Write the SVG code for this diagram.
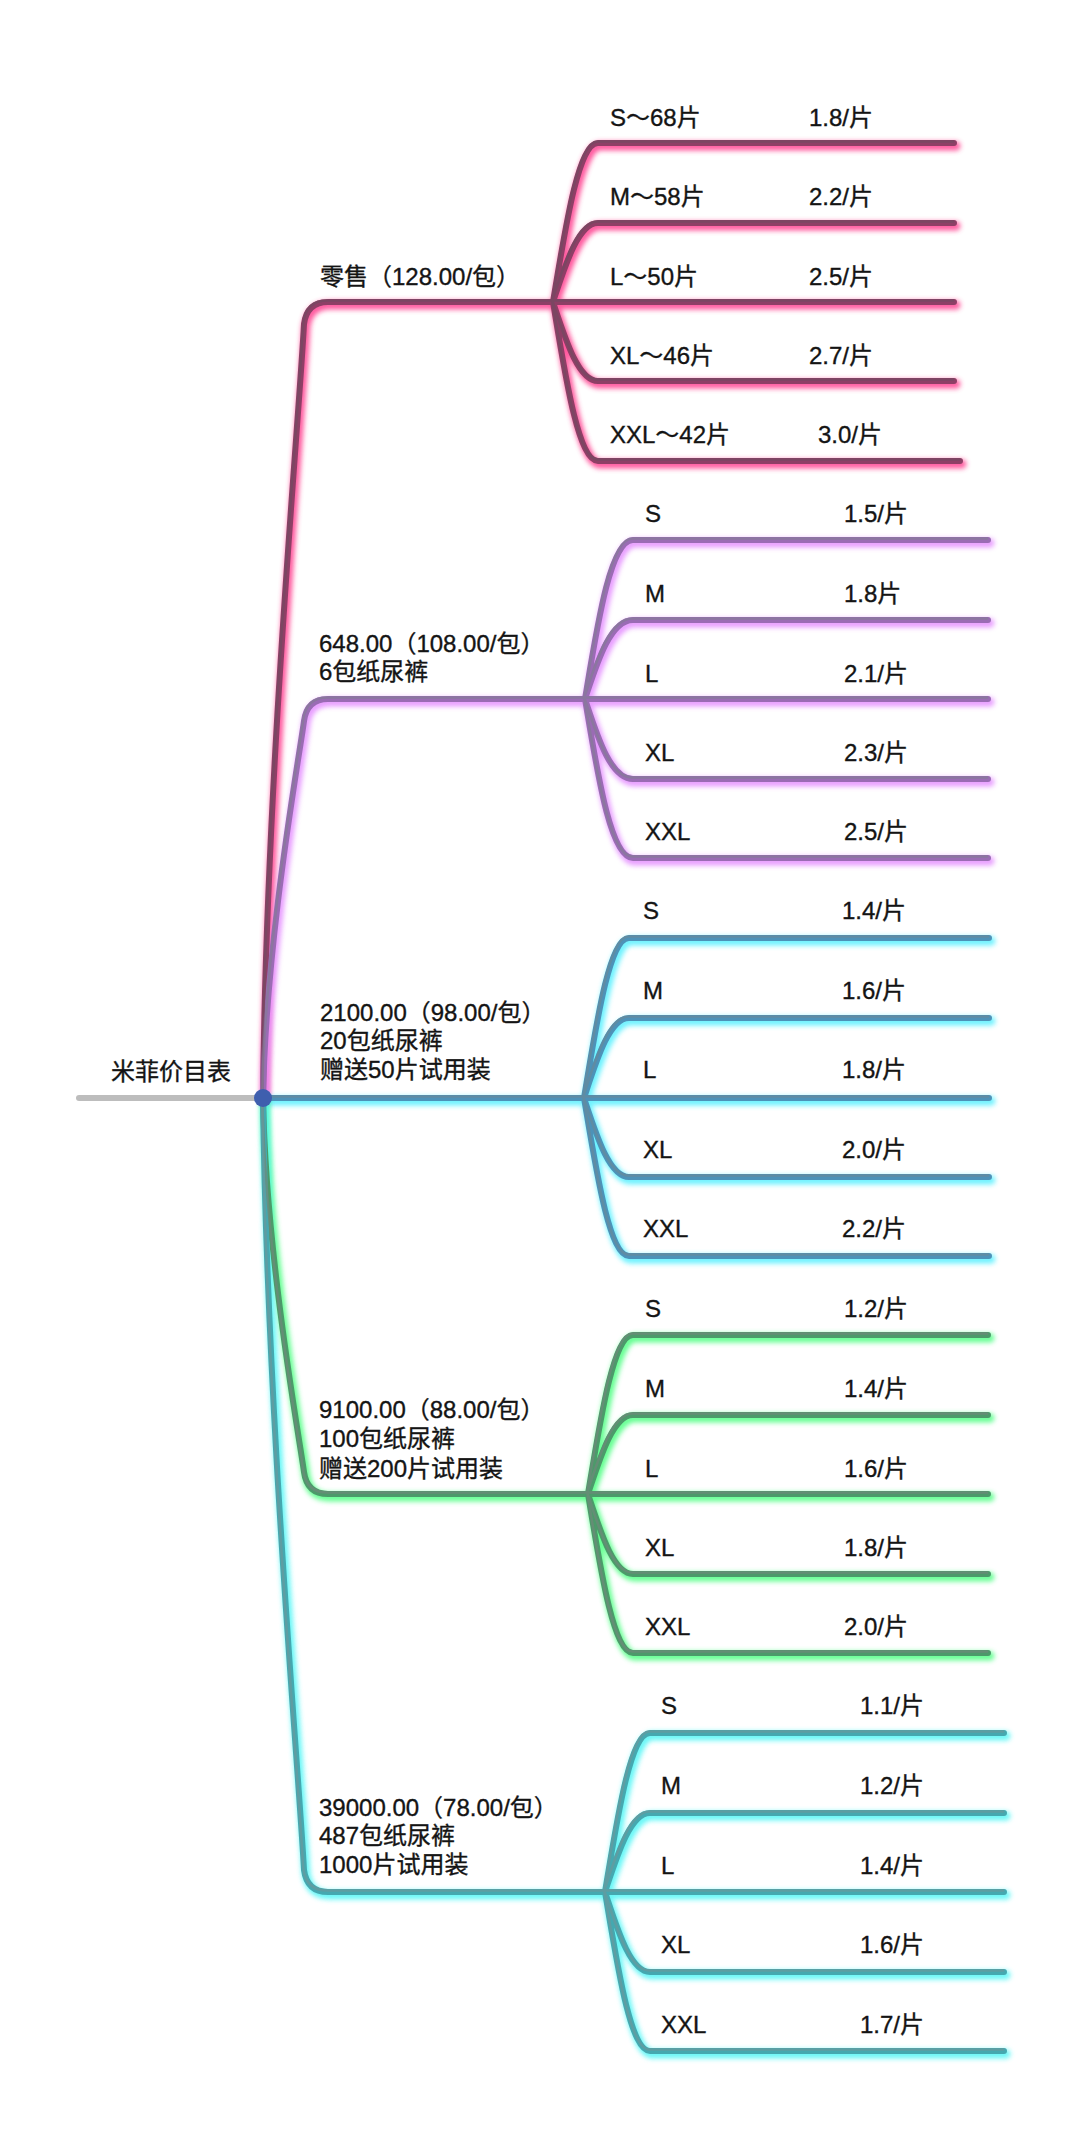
<svg xmlns="http://www.w3.org/2000/svg" xmlns:xlink="http://www.w3.org/1999/xlink" width="1078" height="2130" viewBox="0 0 1078 2130">
<style>
text{font-family:"Liberation Sans","Noto Sans CJK SC",sans-serif;font-size:24px;fill:#141414;stroke:#141414;stroke-width:0.35}
.ln{fill:none;stroke-linecap:round;stroke-linejoin:round}
.glow{stroke-width:9;opacity:.85}
.main{stroke-width:6}
.hi{stroke-width:2.6;opacity:.75}
.g1{stroke:#ff3d8e}.m1{stroke:#8e3f66}.h1{stroke:#744a62}
.g2{stroke:#e48cff}.m2{stroke:#9a6cb4}.h2{stroke:#857a98}
.g3{stroke:#55f0ff}.m3{stroke:#4d92b8}.h3{stroke:#668a9c}
.g4{stroke:#4cff80}.m4{stroke:#4c9a6a}.h4{stroke:#6c8a7a}
.g5{stroke:#4ff6f6}.m5{stroke:#45a8b0}.h5{stroke:#679a9e}
</style>
<defs>
<filter id="blur" filterUnits="userSpaceOnUse" x="0" y="0" width="1078" height="2130">
<feGaussianBlur stdDeviation="2.5"/>
<feOffset dx="1.5" dy="2.5"/>
</filter>
<path id="p1" d="M263,1098 C266,780 299,421 304,324 Q307,302 328,302 L954,302 M553,302 C565,230 578,143 598,143 L954,143 M553,302 C565,266 578,223 598,223 L954,223 M553,302 C565,338 578,381 598,381 L954,381 M553,302 C565,374 578,461 598,461 L960,461"/>
<path id="p2" d="M263,1098 C266,938 299,759 304,721 Q307,699 328,699 L988,699 M585,699 C597,627 610,540 633,540 L988,540 M585,699 C597,663 610,620 633,620 L988,620 M585,699 C597,735 610,779 633,779 L988,779 M585,699 C597,770 610,858 633,858 L988,858"/>
<path id="p3" d="M263,1098 L989,1098 M584,1098 C596,1026 609,938 629,938 L989,938 M584,1098 C596,1062 609,1018 629,1018 L989,1018 M584,1098 C596,1134 609,1177 629,1177 L989,1177 M584,1098 C596,1169 609,1256 629,1256 L989,1256"/>
<path id="p4" d="M263,1098 C266,1256 299,1435 304,1472 Q307,1494 328,1494 L988,1494 M588,1494 C600,1422 613,1335 633,1335 L988,1335 M588,1494 C600,1458 613,1415 633,1415 L988,1415 M588,1494 C600,1530 613,1574 633,1574 L988,1574 M588,1494 C600,1566 613,1653 633,1653 L988,1653"/>
<path id="p5" d="M263,1098 C267,1416 299,1773 304,1870 Q307,1892 328,1892 L1004,1892 M605,1892 C617,1820 630,1733 650,1733 L1004,1733 M605,1892 C617,1856 630,1813 650,1813 L1004,1813 M605,1892 C617,1928 630,1972 650,1972 L1004,1972 M605,1892 C617,1963 630,2051 650,2051 L1004,2051"/>
</defs>
<rect width="1078" height="2130" fill="#ffffff"/>
<g id="connectors">
<line class="ln" x1="79" y1="1098" x2="263" y2="1098" stroke="#bdbdbd" stroke-width="6"/>
<use href="#p1" class="ln glow g1" filter="url(#blur)"/>
<use href="#p2" class="ln glow g2" filter="url(#blur)"/>
<use href="#p3" class="ln glow g3" filter="url(#blur)"/>
<use href="#p4" class="ln glow g4" filter="url(#blur)"/>
<use href="#p5" class="ln glow g5" filter="url(#blur)"/>
<use href="#p1" class="ln main m1"/>
<use href="#p2" class="ln main m2"/>
<use href="#p3" class="ln main m3"/>
<use href="#p4" class="ln main m4"/>
<use href="#p5" class="ln main m5"/>
<use href="#p1" class="ln hi h1" transform="translate(-0.8,-1.5)"/>
<use href="#p2" class="ln hi h2" transform="translate(-0.8,-1.5)"/>
<use href="#p3" class="ln hi h3" transform="translate(-0.8,-1.5)"/>
<use href="#p4" class="ln hi h4" transform="translate(-0.8,-1.5)"/>
<use href="#p5" class="ln hi h5" transform="translate(-0.8,-1.5)"/>
</g>
<g id="root">
<circle cx="263" cy="1098" r="9" fill="#3f5fae"/>
<text x="111" y="1080">米菲价目表</text>
</g>
<g id="b1">
<text x="320" y="285">零售（128.00/包）</text>
</g>
<g id="b1-items">
<text x="610" y="126">S～68片</text><text x="809" y="126">1.8/片</text>
<text x="610" y="205">M～58片</text><text x="809" y="205">2.2/片</text>
<text x="610" y="285">L～50片</text><text x="809" y="285">2.5/片</text>
<text x="610" y="364">XL～46片</text><text x="809" y="364">2.7/片</text>
<text x="610" y="443">XXL～42片</text><text x="818" y="443">3.0/片</text>
</g>
<g id="b2">
<text x="319" y="652">648.00（108.00/包）</text>
<text x="319" y="680">6包纸尿裤</text>
</g>
<g id="b2-items">
<text x="645" y="522">S</text><text x="844" y="522">1.5/片</text>
<text x="645" y="602">M</text><text x="844" y="602">1.8片</text>
<text x="645" y="682">L</text><text x="844" y="682">2.1/片</text>
<text x="645" y="761">XL</text><text x="844" y="761">2.3/片</text>
<text x="645" y="840">XXL</text><text x="844" y="840">2.5/片</text>
</g>
<g id="b3">
<text x="320" y="1021">2100.00（98.00/包）</text>
<text x="320" y="1049">20包纸尿裤</text>
<text x="320" y="1078">赠送50片试用装</text>
</g>
<g id="b3-items">
<text x="643" y="919">S</text><text x="842" y="919">1.4/片</text>
<text x="643" y="999">M</text><text x="842" y="999">1.6/片</text>
<text x="643" y="1078">L</text><text x="842" y="1078">1.8/片</text>
<text x="643" y="1158">XL</text><text x="842" y="1158">2.0/片</text>
<text x="643" y="1237">XXL</text><text x="842" y="1237">2.2/片</text>
</g>
<g id="b4">
<text x="319" y="1418">9100.00（88.00/包）</text>
<text x="319" y="1447">100包纸尿裤</text>
<text x="319" y="1477">赠送200片试用装</text>
</g>
<g id="b4-items">
<text x="645" y="1317">S</text><text x="844" y="1317">1.2/片</text>
<text x="645" y="1397">M</text><text x="844" y="1397">1.4/片</text>
<text x="645" y="1477">L</text><text x="844" y="1477">1.6/片</text>
<text x="645" y="1556">XL</text><text x="844" y="1556">1.8/片</text>
<text x="645" y="1635">XXL</text><text x="844" y="1635">2.0/片</text>
</g>
<g id="b5">
<text x="319" y="1816">39000.00（78.00/包）</text>
<text x="319" y="1844">487包纸尿裤</text>
<text x="319" y="1873">1000片试用装</text>
</g>
<g id="b5-items">
<text x="661" y="1714">S</text><text x="860" y="1714">1.1/片</text>
<text x="661" y="1794">M</text><text x="860" y="1794">1.2/片</text>
<text x="661" y="1874">L</text><text x="860" y="1874">1.4/片</text>
<text x="661" y="1953">XL</text><text x="860" y="1953">1.6/片</text>
<text x="661" y="2033">XXL</text><text x="860" y="2033">1.7/片</text>
</g>
</svg>
